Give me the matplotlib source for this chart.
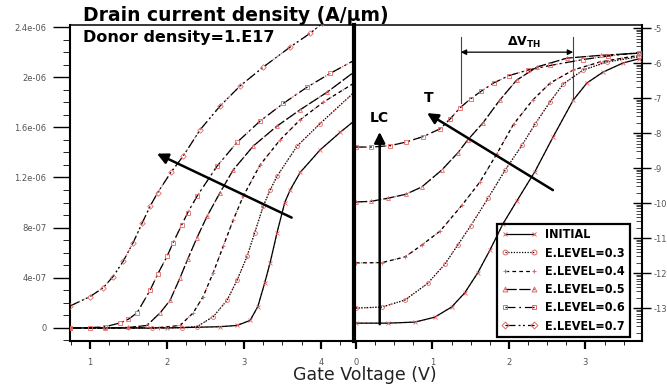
import matplotlib
matplotlib.use('Agg')
import matplotlib.pyplot as plt
import numpy as np
from matplotlib.ticker import MultipleLocator, FixedLocator, FuncFormatter
from matplotlib.lines import Line2D
from matplotlib import font_manager

plt.rcParams['axes.unicode_minus'] = False

# ---------------- data ----------------
series_labels = ['INITIAL', 'E.LEVEL=0.3', 'E.LEVEL=0.4', 'E.LEVEL=0.5', 'E.LEVEL=0.6', 'E.LEVEL=0.7']

# left panel: linear drain current (units of 1e-6 A/um) vs gate voltage
lin_init_vg = [0.74, 2.0, 2.69, 2.91, 3.08, 3.18, 3.27, 3.34, 3.43, 3.53, 3.60, 3.73, 3.99, 4.25, 4.45]
lin_init_i = [0.0, 0.0, 0.01, 0.02, 0.06, 0.17, 0.36, 0.52, 0.76, 1.00, 1.10, 1.24, 1.42, 1.56, 1.66]
lin_03_vg = [0.74, 1.8, 2.2, 2.39, 2.60, 2.78, 2.91, 3.04, 3.14, 3.25, 3.34, 3.43, 3.69, 3.99, 4.45]
lin_03_i = [0.0, 0.0, 0.003, 0.01, 0.09, 0.22, 0.38, 0.57, 0.76, 0.97, 1.10, 1.21, 1.45, 1.63, 1.89]
lin_04_vg = [0.74, 1.5, 1.9, 2.17, 2.34, 2.47, 2.60, 2.73, 2.86, 2.99, 3.21, 3.47, 3.73, 4.03, 4.45]
lin_04_i = [0.0, 0.0, 0.003, 0.02, 0.12, 0.25, 0.44, 0.65, 0.86, 1.05, 1.30, 1.50, 1.66, 1.80, 1.96]
lin_05_vg = [0.74, 1.2, 1.5, 1.74, 1.91, 2.04, 2.17, 2.27, 2.39, 2.52, 2.69, 2.86, 3.12, 3.43, 3.73, 4.08, 4.45]
lin_05_i = [0.0, 0.0, 0.004, 0.02, 0.12, 0.22, 0.40, 0.55, 0.72, 0.89, 1.08, 1.26, 1.45, 1.61, 1.74, 1.88, 2.05]
lin_06_vg = [0.74, 1.0, 1.2, 1.39, 1.50, 1.61, 1.78, 1.88, 2.0, 2.08, 2.19, 2.27, 2.39, 2.65, 2.91, 3.21, 3.51, 3.82, 4.12, 4.45]
lin_06_i = [0.0, 0.002, 0.01, 0.04, 0.07, 0.12, 0.30, 0.43, 0.57, 0.68, 0.82, 0.92, 1.05, 1.29, 1.48, 1.65, 1.79, 1.92, 2.03, 2.14]
lin_07_vg = [0.74, 1.00, 1.17, 1.30, 1.43, 1.56, 1.68, 1.78, 1.88, 2.05, 2.21, 2.43, 2.69, 2.95, 3.25, 3.60, 3.86, 4.02]
lin_07_i = [0.175, 0.25, 0.32, 0.41, 0.53, 0.68, 0.84, 0.97, 1.08, 1.24, 1.37, 1.58, 1.77, 1.93, 2.08, 2.24, 2.35, 2.43]

# right panel: log10 of drain current vs gate voltage
log_init_vg = [0, 0.42, 0.77, 1.03, 1.25, 1.42, 1.59, 1.75, 1.92, 2.10, 2.34, 2.58, 2.84, 3.02, 3.23, 3.49, 3.7]
log_init_i = [-13.43, -13.43, -13.40, -13.26, -12.97, -12.57, -12.0, -11.35, -10.6, -9.95, -9.1, -8.1, -7.06, -6.57, -6.26, -6.0, -5.88]
log_03_vg = [0, 0.34, 0.64, 0.94, 1.16, 1.33, 1.50, 1.73, 1.95, 2.17, 2.34, 2.54, 2.71, 2.97, 3.28, 3.7]
log_03_i = [-13.0, -12.97, -12.77, -12.29, -11.75, -11.2, -10.65, -9.85, -9.06, -8.35, -7.75, -7.1, -6.6, -6.2, -5.97, -5.82]
log_04_vg = [0, 0.34, 0.64, 0.86, 1.10, 1.39, 1.62, 1.84, 2.06, 2.31, 2.54, 2.84, 3.19, 3.7]
log_04_i = [-11.71, -11.70, -11.54, -11.2, -10.8, -10.05, -9.4, -8.6, -7.75, -7.06, -6.57, -6.2, -5.97, -5.78]
log_05_vg = [0, 0.2, 0.42, 0.65, 0.86, 1.12, 1.33, 1.46, 1.66, 1.88, 2.10, 2.37, 2.76, 3.2, 3.7]
log_05_i = [-9.97, -9.95, -9.86, -9.75, -9.54, -9.06, -8.57, -8.2, -7.71, -7.06, -6.49, -6.11, -5.86, -5.78, -5.72]
log_06_vg = [0, 0.2, 0.45, 0.65, 0.88, 1.10, 1.23, 1.36, 1.50, 1.64, 1.80, 2.0, 2.25, 2.54, 2.97, 3.3, 3.7]
log_06_i = [-8.40, -8.40, -8.36, -8.26, -8.10, -7.88, -7.60, -7.28, -7.02, -6.80, -6.57, -6.36, -6.20, -6.07, -5.90, -5.80, -5.70]

left_xticks = [1, 2, 3, 4]
left_yticks = [0, 4e-07, 8e-07, 1.2e-06, 1.6e-06, 2e-06, 2.4e-06]
right_xticks = [0, 1, 2, 3]
right_yticks = [-5, -6, -7, -8, -9, -10, -11, -12, -13]

# ---------------- fonts ----------------
def narrow_bold_font():
    cands = []
    for f in font_manager.fontManager.ttflist:
        fn = f.fname.lower()
        if ('narrow' in fn or 'condensed' in fn) and 'bold' in fn and 'italic' not in fn and 'oblique' not in fn:
            cands.append(f.fname)
    cands.sort(key=lambda s: (0 if 'liberation' in s.lower() else 1 if 'dejavu' in s.lower() else 2))
    if cands:
        return font_manager.FontProperties(fname=cands[0], size=9.0)
    return font_manager.FontProperties(family='Liberation Sans', weight='bold', size=6.9)

# ---------------- styles ----------------
RED = '#e06868'
styles = {
    'INITIAL': dict(ls='-', marker='x'),
    'E.LEVEL=0.3': dict(ls=(0, (1, 1.2)), marker='o'),
    'E.LEVEL=0.4': dict(ls=(0, (3, 2.5)), marker='+'),
    'E.LEVEL=0.5': dict(ls=(0, (9, 2)), marker='^'),
    'E.LEVEL=0.6': dict(ls=(0, (8, 3, 1.5, 3)), marker='s'),
    'E.LEVEL=0.7': dict(ls=(0, (8, 2.5, 1.5, 2, 1.5, 2.5)), marker='D'),
}

W, H = 667, 387
fig = plt.figure(figsize=(W / 100, H / 100), dpi=100)
ax1 = fig.add_axes([70 / W, 1 - 341 / H, (354 - 70) / W, (341 - 25) / H])
ax2 = fig.add_axes([354 / W, 1 - 341 / H, (642 - 354) / W, (341 - 25) / H])


def draw(ax, x, y, label, scale=1.0):
    st = styles[label]
    y = np.asarray(y) * scale
    ax.plot(x, y, color=RED, lw=1.0, ls=(0, (1, 2.5)), zorder=2)
    ax.plot(x, y, color='black', lw=0.9, ls=st['ls'], zorder=3)
    ax.plot(x, y, ls='none', marker=st['marker'], ms=2.8, mfc='none', mec=RED, mew=0.6, zorder=4)


left_data = [
    ('INITIAL', lin_init_vg, lin_init_i),
    ('E.LEVEL=0.3', lin_03_vg, lin_03_i),
    ('E.LEVEL=0.4', lin_04_vg, lin_04_i),
    ('E.LEVEL=0.5', lin_05_vg, lin_05_i),
    ('E.LEVEL=0.6', lin_06_vg, lin_06_i),
    ('E.LEVEL=0.7', lin_07_vg, lin_07_i),
]
for lab, x, y in left_data:
    draw(ax1, x, y, lab, 1e-6)

right_data = [
    ('INITIAL', log_init_vg, log_init_i),
    ('E.LEVEL=0.3', log_03_vg, log_03_i),
    ('E.LEVEL=0.4', log_04_vg, log_04_i),
    ('E.LEVEL=0.5', log_05_vg, log_05_i),
    ('E.LEVEL=0.6', log_06_vg, log_06_i),
]
for lab, x, y in right_data:
    draw(ax2, x, y, lab)

# ---------------- axes ----------------
ax1.set_xlim(0.74, 4.43)
ax1.set_ylim(-1.04e-07, 2.416e-06)
ax2.set_xlim(-0.026, 3.74)
ax2.set_ylim(-13.94, -4.914)

lab_col = '#555555'
ax1.xaxis.set_major_locator(FixedLocator(left_xticks))
ax1.xaxis.set_minor_locator(MultipleLocator(0.25))
ax1.yaxis.set_major_locator(FixedLocator(left_yticks))
ax1.yaxis.set_minor_locator(MultipleLocator(1e-07))
ax1.yaxis.set_major_formatter(FuncFormatter(lambda v, p: '%g' % v))
ax1.xaxis.set_major_formatter(FuncFormatter(lambda v, p: '%d' % round(v)))
ax1.tick_params(axis='y', which='major', direction='out', length=12, width=1.0,
                labelsize=6, labelcolor=lab_col, pad=5, right=False)
ax1.tick_params(axis='y', which='minor', direction='out', length=5, width=0.6, right=False)
ax1.tick_params(axis='x', which='major', direction='out', length=6, width=1.6,
                labelsize=6, labelcolor=lab_col, pad=6, top=False)
ax1.tick_params(axis='x', which='minor', direction='out', length=3, width=0.6, top=False)

ax2.xaxis.set_major_locator(FixedLocator(right_xticks))
ax2.xaxis.set_minor_locator(MultipleLocator(0.25))
ax2.xaxis.set_major_formatter(FuncFormatter(lambda v, p: '%d' % round(v)))
ax2.yaxis.tick_right()
ax2.yaxis.set_major_locator(FixedLocator(right_yticks))
minor_pos = [d + np.log10(m) for d in range(-14, -4) for m in range(2, 10)]
ax2.yaxis.set_minor_locator(FixedLocator(minor_pos))
ax2.yaxis.set_major_formatter(FuncFormatter(lambda v, p: '%d' % round(v)))
ax2.tick_params(axis='y', which='major', direction='inout', length=13, width=1.0,
                labelsize=6, labelcolor=lab_col, pad=2, left=False, right=True)
ax2.tick_params(axis='y', which='minor', direction='in', length=4, width=0.5, left=False, right=True)
ax2.tick_params(axis='x', which='major', direction='out', length=6, width=1.6,
                labelsize=6, labelcolor=lab_col, pad=6, top=False)
ax2.tick_params(axis='x', which='minor', direction='out', length=3, width=0.6, top=False)

for ax in (ax1, ax2):
    ax.spines['top'].set_linewidth(1.1)
    ax.spines['bottom'].set_linewidth(1.5)
ax1.spines['left'].set_linewidth(1.5)
ax1.spines['right'].set_visible(False)
ax2.spines['left'].set_linewidth(3.0)
ax2.spines['right'].set_linewidth(1.5)
ax2.spines['left'].set_zorder(5)

# ---------------- annotations ----------------
arrow_kw = dict(arrowstyle='-|>', lw=1.8, color='black', mutation_scale=16, shrinkA=0, shrinkB=0)
ax1.annotate('', xy=(1.87, 1.39e-06), xytext=(3.62, 0.88e-06), arrowprops=arrow_kw, zorder=6)
ax2.annotate('', xy=(0.31, -7.97), xytext=(0.31, -13.46), arrowprops=arrow_kw, zorder=6)
ax2.annotate('', xy=(0.93, -7.43), xytext=(2.575, -9.63), arrowprops=arrow_kw, zorder=6)
ax2.text(0.31, -7.57, 'LC', ha='center', va='center', fontsize=10, fontweight='bold')
ax2.text(0.95, -7.0, 'T', ha='center', va='center', fontsize=10, fontweight='bold')

# delta V_TH
ax2.plot([1.37, 1.37], [-5.26, -7.14], color='#444444', lw=0.8)
ax2.plot([2.84, 2.84], [-5.26, -7.06], color='#444444', lw=0.8)
ax2.annotate('', xy=(1.37, -5.69), xytext=(2.84, -5.69),
             arrowprops=dict(arrowstyle='<|-|>', lw=0.9, color='black', mutation_scale=8,
                             shrinkA=0, shrinkB=0))
ax2.text(2.2, -5.42, r'$\mathbf{\Delta V}_{\mathbf{TH}}$', ha='center', va='center', fontsize=9)

# legend
handles = [Line2D([], [], color='black', lw=0.9, ls=styles[l]['ls'], marker=styles[l]['marker'],
                  ms=3.5, mfc='none', mec=RED, mew=0.7) for l in series_labels]
fp = narrow_bold_font()
fs_px = fp.get_size_in_points() * 100 / 72
leg = ax2.legend(handles, series_labels, loc='upper left',
                 bbox_to_anchor=(497 / W, 1 - 224 / H), bbox_transform=fig.transFigure,
                 borderaxespad=0, numpoints=2, handlelength=36 / fs_px, handletextpad=8 / fs_px,
                 labelspacing=5.2 / fs_px, borderpad=4.5 / fs_px, fancybox=False,
                 facecolor='none', edgecolor='black', framealpha=1, prop=fp)
leg.get_frame().set_linewidth(1.6)
leg.set_zorder(7)

# ---------------- texts ----------------
fig.text(83 / W, 1 - 21 / H, 'Drain current density (A/\u03bcm)', fontsize=13.5,
         fontweight='bold', va='baseline', ha='left')
fig.text(83 / W, 1 - 42 / H, 'Donor density=1.E17', fontsize=11.5, fontweight='bold',
         va='baseline', ha='left')
fig.text(365 / W, 1 - 380 / H, 'Gate Voltage (V)', fontsize=12.5, va='baseline', ha='center',
         color='#222222')

fig.savefig('out.png', dpi=100)
